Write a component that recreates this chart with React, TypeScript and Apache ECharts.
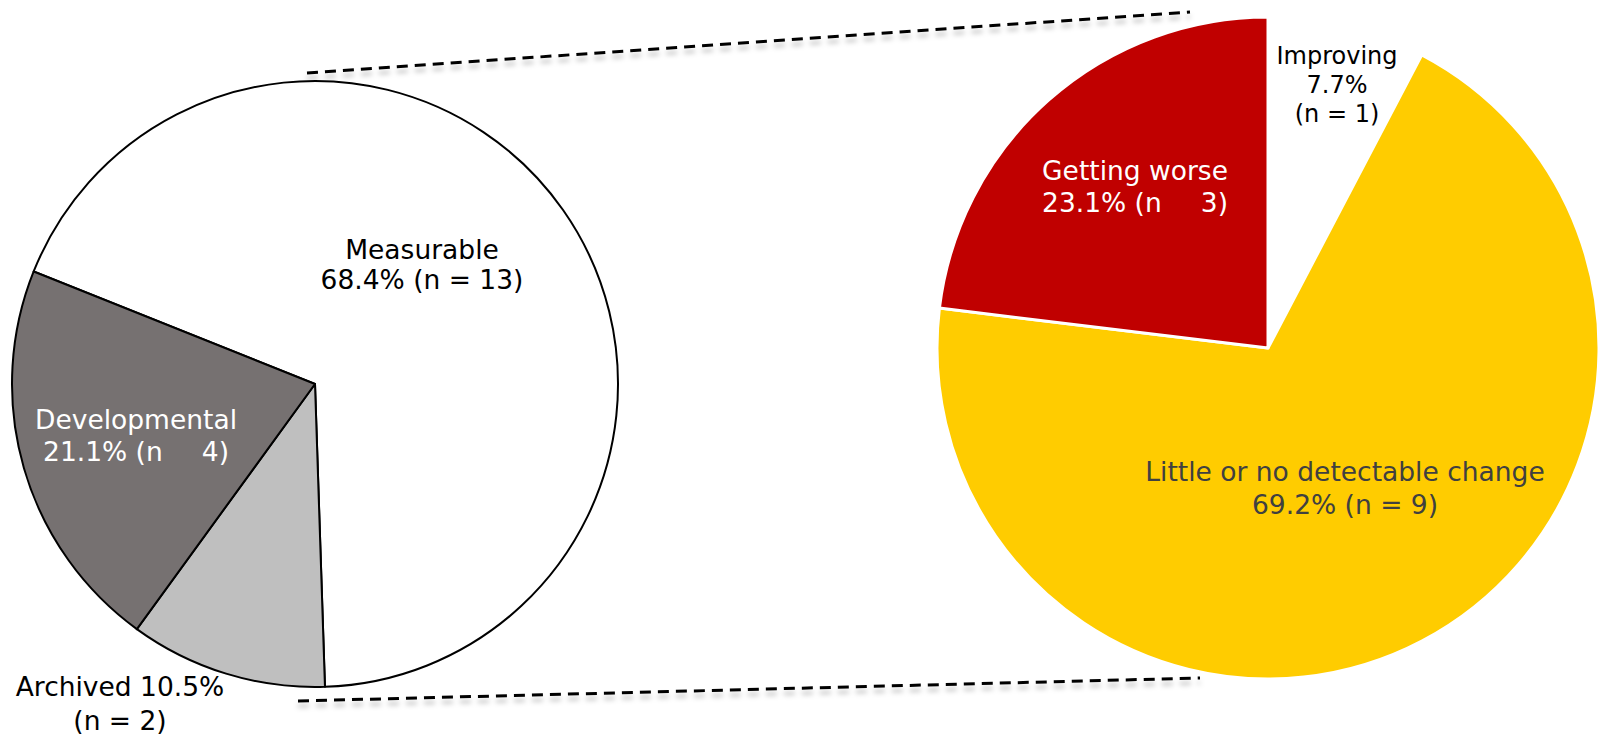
import React, { useEffect, useRef } from "react";
import * as echarts from "echarts";

const leftNames = ["Measurable", "Archived", "Developmental"];
const leftValues = [13, 2, 4];
const leftColors = ["#FFFFFF", "#BFBFBF", "#767171"];

const rightNames = ["Improving", "Little or no detectable change", "Getting worse"];
const rightValues = [1, 9, 3];
const rightColors = ["#FFFFFF", "#FFCC00", "#C00000"];

const pct = (v: number, arr: number[]) =>
  ((v * 100) / arr.reduce((a, b) => a + b, 0)).toFixed(1) + "%";

const FONT = '"DejaVu Sans", Verdana, sans-serif';

export default function App() {
  const ref = useRef<HTMLDivElement>(null);

  useEffect(() => {
    if (!ref.current) return;
    const chart = echarts.init(ref.current, undefined, { renderer: "svg" });

    const txt = (
      x: number,
      y: number,
      text: string,
      fill: string,
      size: number,
      lh: number,
      rich?: any
    ) => ({
      type: "text",
      x,
      y,
      z: 100,
      style: {
        text,
        fill,
        font: `${size}px ${FONT}`,
        fontSize: size,
        fontFamily: FONT,
        align: "center",
        verticalAlign: "middle",
        lineHeight: lh,
        rich,
      },
    });

    const richHidden = (color: string, size: number, lh: number) => ({
      a: { fill: "#FFFFFF", color: "#FFFFFF", fontSize: size, fontFamily: FONT, lineHeight: lh },
      h: { fill: color, color: color, fontSize: size, fontFamily: FONT, lineHeight: lh },
    });

    const L = (i: number) => leftValues[i];
    const R = (i: number) => rightValues[i];
    const FS = 26.5;

    const dashStyle = {
      stroke: "#000",
      lineWidth: 3,
      lineDash: [11, 7],
      shadowBlur: 5,
      shadowColor: "rgba(0,0,0,0.25)",
      shadowOffsetY: 5,
    };

    const graphics: any[] = [
      { type: "line", z: 50, shape: { x1: 307, y1: 73, x2: 1190, y2: 12 }, style: dashStyle },
      { type: "line", z: 50, shape: { x1: 298, y1: 701, x2: 1200, y2: 678 }, style: dashStyle },
      txt(422, 264, `${leftNames[0]}\n${pct(L(0), leftValues)} (n = ${L(0)})`, "#000000", FS, 30),
      txt(
        136,
        435,
        `{a|${leftNames[2]}}\n{a|${pct(L(2), leftValues)} (n }{h|=}{a| ${L(2)})}`,
        "#FFFFFF",
        FS,
        32,
        richHidden(leftColors[2], FS, 32)
      ),
      txt(120, 703, `${leftNames[1]} ${pct(L(1), leftValues)}\n(n = ${L(1)})`, "#000000", FS, 34),
      txt(1337, 85, `${rightNames[0]}\n${pct(R(0), rightValues)}\n(n = ${R(0)})`, "#000000", 24, 29),
      txt(
        1135,
        186,
        `{a|${rightNames[2]}}\n{a|${pct(R(2), rightValues)} (n }{h|=}{a| ${R(2)})}`,
        "#FFFFFF",
        FS,
        32,
        richHidden(rightColors[2], FS, 32)
      ),
      txt(1345, 488, `${rightNames[1]}\n${pct(R(1), rightValues)} (n = ${R(1)})`, "#404040", FS, 33),
    ];

    chart.setOption({
      animation: false,
      backgroundColor: "#FFFFFF",
      series: [
        {
          type: "pie",
          center: [315, 384],
          radius: 303,
          startAngle: 158.2,
          clockwise: true,
          label: { show: false },
          labelLine: { show: false },
          emphasis: { disabled: true },
          itemStyle: { borderColor: "#000000", borderWidth: 2 },
          data: leftNames.map((n, i) => ({
            name: n,
            value: leftValues[i],
            itemStyle: { color: leftColors[i] },
          })),
        },
        {
          type: "pie",
          center: [1268, 348],
          radius: 331,
          startAngle: 90,
          clockwise: true,
          label: { show: false },
          labelLine: { show: false },
          emphasis: { disabled: true },
          itemStyle: { borderColor: "#FFFFFF", borderWidth: 3 },
          data: rightNames.map((n, i) => ({
            name: n,
            value: rightValues[i],
            itemStyle: {
              color: rightColors[i],
              borderWidth: i === 0 ? 0 : 3,
            },
          })),
        },
      ],
      graphic: graphics,
    });

    return () => chart.dispose();
  }, []);

  return (
    <div
      ref={ref}
      style={{ position: "fixed", left: 0, top: 0, width: 1603, height: 738, background: "#fff" }}
    />
  );
}
